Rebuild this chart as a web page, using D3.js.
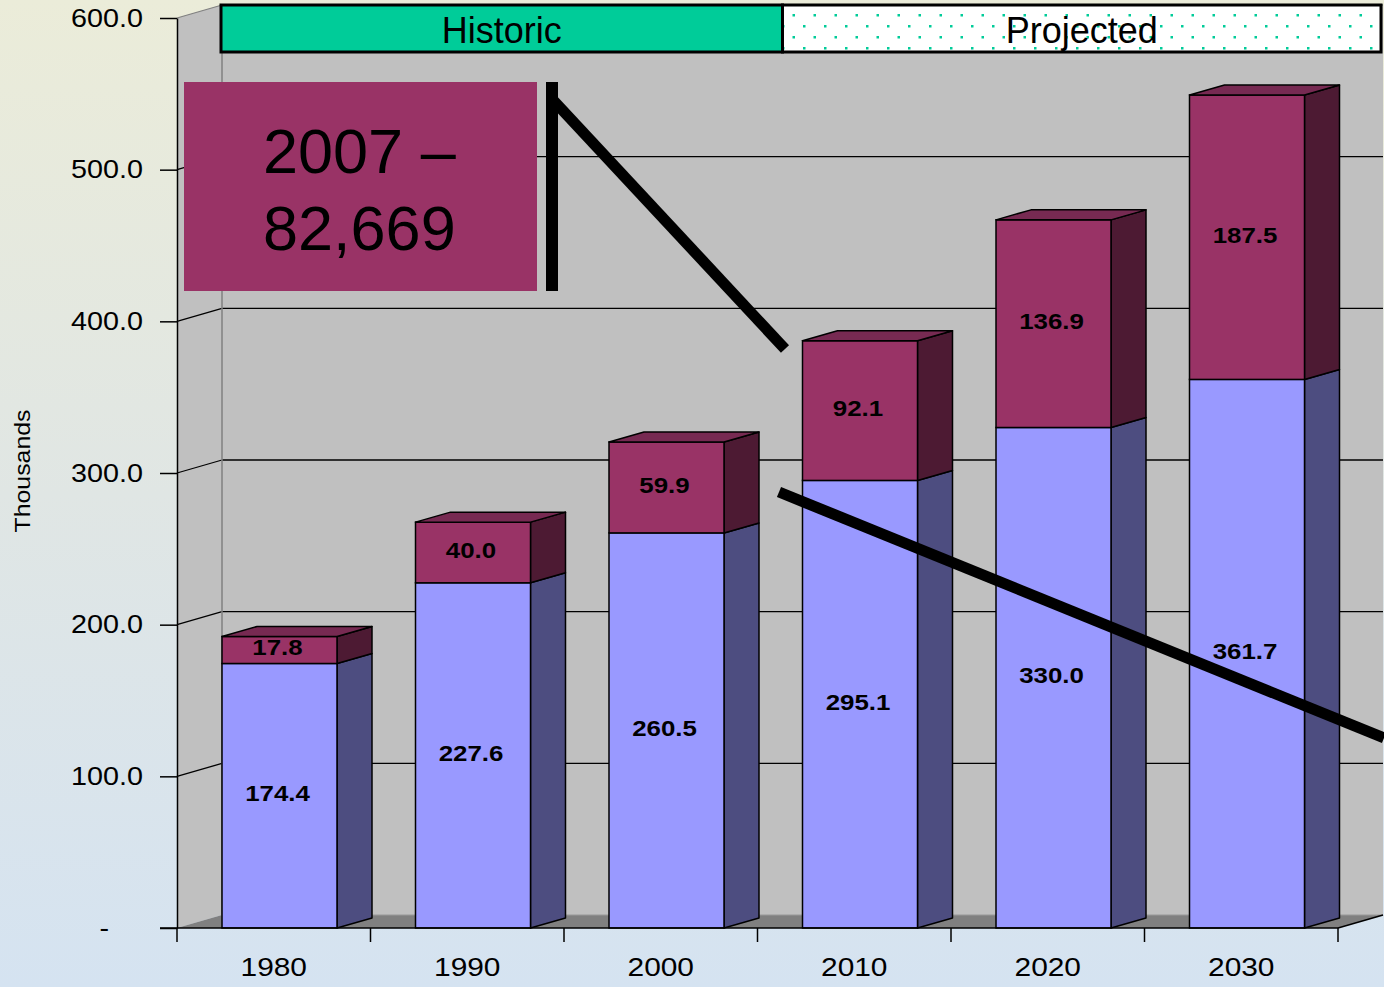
<!DOCTYPE html>
<html>
<head>
<meta charset="utf-8">
<script src="https://cdn.jsdelivr.net/npm/d3@7"></script>
<style>
body{margin:0;background:#fff}
svg{display:block;font-family:Arial,"Liberation Sans",sans-serif}
</style>
</head>
<body>
<svg id="chart" width="1384" height="987"></svg>
<script>
// values (thousands)
var years=["1980","1990","2000","2010","2020","2030"];
var baseValues=[174.4,227.6,260.5,295.1,330.0,361.7];
var topValues=[17.8,40.0,59.9,92.1,136.9,187.5];
var yTicks=[0,100,200,300,400,500,600];
var periods=["Historic","Projected"];
var calloutLines=["2007 –","82,669"];

var width=1384, height=987;
var wallDx=45, wallDy=-13;     // depth of the 3d box
var barOff=45, barW=115;       // bar inside its band
var barDx=35, barDy=-10;       // depth of a bar
var stretch=1.15;              // excel text is a bit wider

var colors={
	baseFront:"#9999ff", baseSide:"#4d4d80",
	topFront:"#993366", topSide:"#4d1a33", topTop:"#772a52",
	wall:"#c0c0c0", floor:"#808080"
};

var svg=d3.select("#chart");

var defs=svg.append("defs");
var grad=defs.append("linearGradient").attr("id","bg")
	.attr("x1",0).attr("y1",0).attr("x2",0).attr("y2",1);
grad.append("stop").attr("offset","0%").attr("stop-color","#ebecd9");
grad.append("stop").attr("offset","50%").attr("stop-color","#e0e6e4");
grad.append("stop").attr("offset","100%").attr("stop-color","#d5e3f1");

var pat=defs.append("pattern").attr("id","dots")
	.attr("patternUnits","userSpaceOnUse")
	.attr("width",21).attr("height",22).attr("x",4).attr("y",2);
pat.append("rect").attr("width",21).attr("height",22).attr("fill","#fff");
pat.append("rect").attr("x",1).attr("y",1).attr("width",2.5).attr("height",2.5).attr("fill","#00cc99");
pat.append("rect").attr("x",11.5).attr("y",12).attr("width",2.5).attr("height",2.5).attr("fill","#00cc99");

svg.append("rect").attr("width",width).attr("height",height).attr("fill","url(#bg)");

var xScale=d3.scaleBand().domain(years).range([177,1338]);
var yScale=d3.scaleLinear().domain([0,600]).range([928,18]);

var x0=xScale.range()[0], x1=xScale.range()[1];
var yb=yScale(0), yt=yScale(600);

// walls and floor
svg.append("polygon")
	.attr("points",[[x0,yt],[x0+wallDx,yt+wallDy],[x0+wallDx,yb+wallDy],[x0,yb]].join(" "))
	.attr("fill",colors.wall);
svg.append("rect")
	.attr("x",x0+wallDx).attr("y",yt+wallDy)
	.attr("width",x1-x0).attr("height",yb-yt)
	.attr("fill",colors.wall);

var grid=svg.append("g");
yTicks.filter(d=>d>0).forEach(v=>{
	let y=yScale(v);
	grid.append("line")
		.attr("x1",x0+wallDx).attr("x2",x1+wallDx)
		.attr("y1",y+wallDy).attr("y2",y+wallDy)
		.attr("stroke",v===600?"#808080":"#000").attr("stroke-width",1.3);
	grid.append("line")
		.attr("x1",x0).attr("x2",x0+wallDx)
		.attr("y1",y).attr("y2",y+wallDy)
		.attr("stroke",v===600?"#808080":"#000").attr("stroke-width",1.3);
});
svg.append("line")
	.attr("x1",x0+wallDx).attr("x2",x0+wallDx)
	.attr("y1",yt+wallDy).attr("y2",yb+wallDy)
	.attr("stroke","#808080").attr("stroke-width",1.5);

svg.append("polygon")
	.attr("points",[[x0,yb],[x0+wallDx,yb+wallDy],[x1+wallDx,yb+wallDy],[x1,yb]].join(" "))
	.attr("fill",colors.floor);
svg.append("line")
	.attr("x1",x0+wallDx).attr("x2",x1+wallDx)
	.attr("y1",yb+wallDy).attr("y2",yb+wallDy)
	.attr("stroke","#999").attr("stroke-width",1);
svg.append("line")
	.attr("x1",x1).attr("x2",x1+wallDx)
	.attr("y1",yb).attr("y2",yb+wallDy)
	.attr("stroke","#000").attr("stroke-width",1.5);

// stacked bars
var stacked=years.map((yr,i)=>({
	year:yr,
	segs:[
		{y0:0,y1:baseValues[i],v:baseValues[i],front:colors.baseFront,side:colors.baseSide},
		{y0:baseValues[i],y1:baseValues[i]+topValues[i],v:topValues[i],front:colors.topFront,side:colors.topSide}
	]
}));

var fmt=d3.format(".1f");

var bars=svg.selectAll(".bar")
	.data(stacked)
	.enter()
	.append("g")
	.classed("bar",true);

bars.each(function(d){
	let g=d3.select(this);
	let xl=xScale(d.year)+barOff, xr=xl+barW;
	d.segs.forEach(s=>{
		let ya=yScale(s.y1), yz=yScale(s.y0);
		g.append("polygon")
			.attr("points",[[xr,ya],[xr+barDx,ya+barDy],[xr+barDx,yz+barDy],[xr,yz]].join(" "))
			.attr("fill",s.side).attr("stroke","#000").attr("stroke-width",1.5)
			.attr("stroke-linejoin","round");
		g.append("rect")
			.attr("x",xl).attr("y",ya).attr("width",barW).attr("height",yz-ya)
			.attr("fill",s.front).attr("stroke","#000").attr("stroke-width",1.5);
	});
	let top=d.segs[1], ya=yScale(top.y1);
	g.append("polygon")
		.attr("points",[[xl,ya],[xl+barDx,ya+barDy],[xr+barDx,ya+barDy],[xr,ya]].join(" "))
		.attr("fill",colors.topTop).attr("stroke","#000").attr("stroke-width",1.5)
		.attr("stroke-linejoin","round");
});

// annotation lines
var ann=svg.append("g").attr("stroke","#000").attr("stroke-linecap","butt");
ann.append("line").attr("x1",553).attr("y1",100).attr("x2",785).attr("y2",349).attr("stroke-width",11);
ann.append("line").attr("x1",779).attr("y1",492).attr("x2",1384).attr("y2",738).attr("stroke-width",11);

// value labels
bars.each(function(d){
	let g=d3.select(this);
	let cx=xScale(d.year)+barOff+barW/2-2;
	d.segs.forEach(s=>{
		let cy=(yScale(s.y0)+yScale(s.y1))/2;
		g.append("text")
			.attr("transform",`translate(${cx},${cy}) scale(${stretch},1)`)
			.attr("text-anchor","middle")
			.attr("dy","0.24em")
			.attr("font-size","22.5px")
			.attr("font-weight","bold")
			.text(fmt(s.v));
	});
});

// y axis
var yAxis=d3.axisLeft(yScale)
	.tickValues(yTicks)
	.tickSize(17)
	.tickSizeOuter(0)
	.tickPadding(17)
	.tickFormat(d=>d===0?"-":fmt(d));

var gy=svg.append("g")
	.attr("transform",`translate(${x0},0)`)
	.call(yAxis);
gy.select(".domain").attr("stroke","#000").attr("stroke-width",1.5);
gy.selectAll(".tick line").attr("stroke","#000").attr("stroke-width",1.5);
gy.selectAll(".tick text")
	.attr("font-size","25px")
	.attr("font-family",null)
	.attr("fill","#000")
	.each(function(d){
		let tx=d===0?-68:-34;
		d3.select(this).attr("x",0).attr("transform",`translate(${tx},0) scale(${stretch},1)`);
	});

// x axis
var xAxis=d3.axisBottom(xScale).tickSize(0).tickPadding(30);
var gx=svg.append("g")
	.attr("transform",`translate(0,${yb})`)
	.call(xAxis);
gx.select(".domain").remove();
gx.selectAll(".tick text")
	.attr("font-size","26px")
	.attr("font-family",null)
	.attr("fill","#000")
	.each(function(){
		let t=d3.select(this);
		let y=t.attr("y");
		t.attr("y",0).attr("transform",`translate(0,${y}) scale(${stretch},1)`);
	});
svg.append("line")
	.attr("x1",x0-17).attr("x2",x1)
	.attr("y1",yb).attr("y2",yb)
	.attr("stroke","#000").attr("stroke-width",1.5);
var edges=years.map(d=>xScale(d)).concat([x1]);
svg.append("g").selectAll("line")
	.data(edges)
	.enter()
	.append("line")
	.attr("x1",d=>d).attr("x2",d=>d)
	.attr("y1",yb).attr("y2",yb+14)
	.attr("stroke","#000").attr("stroke-width",1.5);

svg.append("text")
	.attr("transform","translate(30,471) rotate(-90) scale(1.13,1)")
	.attr("text-anchor","middle")
	.attr("font-size","22px")
	.text("Thousands");

// callout
svg.append("rect")
	.attr("x",184).attr("y",82).attr("width",353).attr("height",209)
	.attr("fill","#993366");
svg.append("line")
	.attr("x1",552).attr("x2",552).attr("y1",82).attr("y2",291)
	.attr("stroke","#000").attr("stroke-width",12);
svg.selectAll(".callout")
	.data(calloutLines)
	.enter()
	.append("text")
	.classed("callout",true)
	.attr("x",263)
	.attr("y",(d,i)=>173+i*77)
	.attr("font-size","63px")
	.text(d=>d);

// historic / projected banner
var split=xScale("2010")+25;
var bannerL=x0+wallDx-1, bannerR=x1+wallDx-2;
var bands=[[bannerL,split],[split,bannerR]];
svg.selectAll(".period")
	.data(periods)
	.enter()
	.append("rect")
	.classed("period",true)
	.attr("x",(d,i)=>bands[i][0])
	.attr("y",5)
	.attr("width",(d,i)=>bands[i][1]-bands[i][0])
	.attr("height",47)
	.attr("fill",(d,i)=>i===0?"#00cc99":"url(#dots)")
	.attr("stroke","#000")
	.attr("stroke-width",3);
svg.selectAll(".periodLabel")
	.data(periods)
	.enter()
	.append("text")
	.classed("periodLabel",true)
	.attr("x",(d,i)=>(bands[i][0]+bands[i][1])/2)
	.attr("y",43)
	.attr("text-anchor","middle")
	.attr("font-size","36px")
	.text(d=>d);
</script>
</body>
</html>
